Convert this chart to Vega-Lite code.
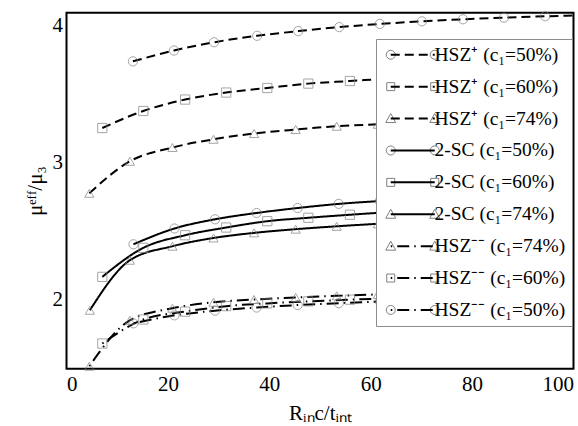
{
  "$schema": "https://vega.github.io/schema/vega-lite/v6.json",
  "width": 507,
  "height": 356,
  "autosize": {"type": "none"},
  "padding": {"left": 66.5, "top": 12.7, "right": 4.5, "bottom": 57},
  "config": {
    "view": {"stroke": "black", "strokeWidth": 2},
    "axis": {
      "grid": false, "domain": false,
      "labelFont": "Liberation Serif", "labelFontSize": 21, "labelColor": "black",
      "titleFont": "Liberation Serif", "titleFontSize": 21, "titleColor": "black", "titleFontWeight": "normal",
      "tickColor": "black", "tickWidth": 1.5, "tickSize": 0
    }
  },
  "data": {"values": [
    {"s": "HSZ⁺ (c₁=50%)", "x": 13.1, "y": 3.736},
    {"s": "HSZ⁺ (c₁=50%)", "x": 21.2, "y": 3.815},
    {"s": "HSZ⁺ (c₁=50%)", "x": 29.1, "y": 3.875},
    {"s": "HSZ⁺ (c₁=50%)", "x": 37.6, "y": 3.922},
    {"s": "HSZ⁺ (c₁=50%)", "x": 45.7, "y": 3.956},
    {"s": "HSZ⁺ (c₁=50%)", "x": 53.8, "y": 3.985},
    {"s": "HSZ⁺ (c₁=50%)", "x": 61.8, "y": 4.008},
    {"s": "HSZ⁺ (c₁=50%)", "x": 70.1, "y": 4.027},
    {"s": "HSZ⁺ (c₁=50%)", "x": 78.2, "y": 4.042},
    {"s": "HSZ⁺ (c₁=50%)", "x": 86.3, "y": 4.054},
    {"s": "HSZ⁺ (c₁=50%)", "x": 94.4, "y": 4.064},
    {"s": "HSZ⁺ (c₁=50%)", "x": 100, "y": 4.070},
    {"s": "HSZ⁺ (c₁=60%)", "x": 7.06, "y": 3.251},
    {"s": "HSZ⁺ (c₁=60%)", "x": 15.15, "y": 3.375},
    {"s": "HSZ⁺ (c₁=60%)", "x": 23.4, "y": 3.458},
    {"s": "HSZ⁺ (c₁=60%)", "x": 31.5, "y": 3.509},
    {"s": "HSZ⁺ (c₁=60%)", "x": 39.6, "y": 3.542},
    {"s": "HSZ⁺ (c₁=60%)", "x": 47.7, "y": 3.574},
    {"s": "HSZ⁺ (c₁=60%)", "x": 55.9, "y": 3.593},
    {"s": "HSZ⁺ (c₁=60%)", "x": 64.0, "y": 3.612},
    {"s": "HSZ⁺ (c₁=60%)", "x": 72.1, "y": 3.627},
    {"s": "HSZ⁺ (c₁=60%)", "x": 80.2, "y": 3.640},
    {"s": "HSZ⁺ (c₁=60%)", "x": 88.3, "y": 3.650},
    {"s": "HSZ⁺ (c₁=60%)", "x": 96.4, "y": 3.659},
    {"s": "HSZ⁺ (c₁=60%)", "x": 100, "y": 3.663},
    {"s": "HSZ⁺ (c₁=74%)", "x": 4.5, "y": 2.776},
    {"s": "HSZ⁺ (c₁=74%)", "x": 12.5, "y": 3.009},
    {"s": "HSZ⁺ (c₁=74%)", "x": 20.9, "y": 3.109},
    {"s": "HSZ⁺ (c₁=74%)", "x": 29.0, "y": 3.169},
    {"s": "HSZ⁺ (c₁=74%)", "x": 37.0, "y": 3.211},
    {"s": "HSZ⁺ (c₁=74%)", "x": 45.2, "y": 3.240},
    {"s": "HSZ⁺ (c₁=74%)", "x": 53.3, "y": 3.264},
    {"s": "HSZ⁺ (c₁=74%)", "x": 61.4, "y": 3.278},
    {"s": "HSZ⁺ (c₁=74%)", "x": 69.5, "y": 3.290},
    {"s": "HSZ⁺ (c₁=74%)", "x": 77.6, "y": 3.300},
    {"s": "HSZ⁺ (c₁=74%)", "x": 85.7, "y": 3.309},
    {"s": "HSZ⁺ (c₁=74%)", "x": 93.8, "y": 3.317},
    {"s": "HSZ⁺ (c₁=74%)", "x": 100, "y": 3.322},
    {"s": "2-SC (c₁=50%)", "x": 13.2, "y": 2.405},
    {"s": "2-SC (c₁=50%)", "x": 21.3, "y": 2.520},
    {"s": "2-SC (c₁=50%)", "x": 29.3, "y": 2.587},
    {"s": "2-SC (c₁=50%)", "x": 37.5, "y": 2.633},
    {"s": "2-SC (c₁=50%)", "x": 45.6, "y": 2.669},
    {"s": "2-SC (c₁=50%)", "x": 53.7, "y": 2.699},
    {"s": "2-SC (c₁=50%)", "x": 61.8, "y": 2.720},
    {"s": "2-SC (c₁=50%)", "x": 69.9, "y": 2.740},
    {"s": "2-SC (c₁=50%)", "x": 78.0, "y": 2.756},
    {"s": "2-SC (c₁=50%)", "x": 86.1, "y": 2.770},
    {"s": "2-SC (c₁=50%)", "x": 94.2, "y": 2.782},
    {"s": "2-SC (c₁=50%)", "x": 100, "y": 2.790},
    {"s": "2-SC (c₁=60%)", "x": 7.06, "y": 2.168},
    {"s": "2-SC (c₁=60%)", "x": 15.15, "y": 2.379},
    {"s": "2-SC (c₁=60%)", "x": 23.4, "y": 2.471},
    {"s": "2-SC (c₁=60%)", "x": 31.5, "y": 2.527},
    {"s": "2-SC (c₁=60%)", "x": 39.6, "y": 2.573},
    {"s": "2-SC (c₁=60%)", "x": 47.7, "y": 2.598},
    {"s": "2-SC (c₁=60%)", "x": 55.9, "y": 2.620},
    {"s": "2-SC (c₁=60%)", "x": 64.0, "y": 2.640},
    {"s": "2-SC (c₁=60%)", "x": 72.1, "y": 2.658},
    {"s": "2-SC (c₁=60%)", "x": 80.2, "y": 2.673},
    {"s": "2-SC (c₁=60%)", "x": 88.3, "y": 2.686},
    {"s": "2-SC (c₁=60%)", "x": 96.4, "y": 2.697},
    {"s": "2-SC (c₁=60%)", "x": 100, "y": 2.702},
    {"s": "2-SC (c₁=74%)", "x": 4.6, "y": 1.925},
    {"s": "2-SC (c₁=74%)", "x": 12.5, "y": 2.289},
    {"s": "2-SC (c₁=74%)", "x": 20.9, "y": 2.391},
    {"s": "2-SC (c₁=74%)", "x": 29.0, "y": 2.451},
    {"s": "2-SC (c₁=74%)", "x": 37.0, "y": 2.488},
    {"s": "2-SC (c₁=74%)", "x": 45.2, "y": 2.515},
    {"s": "2-SC (c₁=74%)", "x": 53.3, "y": 2.536},
    {"s": "2-SC (c₁=74%)", "x": 61.4, "y": 2.554},
    {"s": "2-SC (c₁=74%)", "x": 69.5, "y": 2.569},
    {"s": "2-SC (c₁=74%)", "x": 77.6, "y": 2.582},
    {"s": "2-SC (c₁=74%)", "x": 85.7, "y": 2.593},
    {"s": "2-SC (c₁=74%)", "x": 93.8, "y": 2.603},
    {"s": "2-SC (c₁=74%)", "x": 100, "y": 2.610},
    {"s": "HSZ⁻⁻ (c₁=74%)", "x": 4.5, "y": 1.518},
    {"s": "HSZ⁻⁻ (c₁=74%)", "x": 12.5, "y": 1.852},
    {"s": "HSZ⁻⁻ (c₁=74%)", "x": 20.9, "y": 1.940},
    {"s": "HSZ⁻⁻ (c₁=74%)", "x": 29.0, "y": 1.983},
    {"s": "HSZ⁻⁻ (c₁=74%)", "x": 37.0, "y": 2.003},
    {"s": "HSZ⁻⁻ (c₁=74%)", "x": 45.2, "y": 2.018},
    {"s": "HSZ⁻⁻ (c₁=74%)", "x": 53.3, "y": 2.030},
    {"s": "HSZ⁻⁻ (c₁=74%)", "x": 61.4, "y": 2.040},
    {"s": "HSZ⁻⁻ (c₁=74%)", "x": 69.5, "y": 2.048},
    {"s": "HSZ⁻⁻ (c₁=74%)", "x": 77.6, "y": 2.055},
    {"s": "HSZ⁻⁻ (c₁=74%)", "x": 85.7, "y": 2.060},
    {"s": "HSZ⁻⁻ (c₁=74%)", "x": 93.8, "y": 2.065},
    {"s": "HSZ⁻⁻ (c₁=74%)", "x": 100, "y": 2.068},
    {"s": "HSZ⁻⁻ (c₁=60%)", "x": 7.06, "y": 1.683},
    {"s": "HSZ⁻⁻ (c₁=60%)", "x": 15.15, "y": 1.858},
    {"s": "HSZ⁻⁻ (c₁=60%)", "x": 23.4, "y": 1.915},
    {"s": "HSZ⁻⁻ (c₁=60%)", "x": 31.5, "y": 1.955},
    {"s": "HSZ⁻⁻ (c₁=60%)", "x": 39.6, "y": 1.975},
    {"s": "HSZ⁻⁻ (c₁=60%)", "x": 47.7, "y": 1.990},
    {"s": "HSZ⁻⁻ (c₁=60%)", "x": 55.9, "y": 2.002},
    {"s": "HSZ⁻⁻ (c₁=60%)", "x": 64.0, "y": 2.012},
    {"s": "HSZ⁻⁻ (c₁=60%)", "x": 72.1, "y": 2.020},
    {"s": "HSZ⁻⁻ (c₁=60%)", "x": 80.2, "y": 2.027},
    {"s": "HSZ⁻⁻ (c₁=60%)", "x": 88.3, "y": 2.033},
    {"s": "HSZ⁻⁻ (c₁=60%)", "x": 96.4, "y": 2.038},
    {"s": "HSZ⁻⁻ (c₁=60%)", "x": 100, "y": 2.040},
    {"s": "HSZ⁻⁻ (c₁=50%)", "x": 13.2, "y": 1.830},
    {"s": "HSZ⁻⁻ (c₁=50%)", "x": 21.3, "y": 1.888},
    {"s": "HSZ⁻⁻ (c₁=50%)", "x": 29.3, "y": 1.922},
    {"s": "HSZ⁻⁻ (c₁=50%)", "x": 37.5, "y": 1.945},
    {"s": "HSZ⁻⁻ (c₁=50%)", "x": 45.6, "y": 1.963},
    {"s": "HSZ⁻⁻ (c₁=50%)", "x": 53.7, "y": 1.977},
    {"s": "HSZ⁻⁻ (c₁=50%)", "x": 61.8, "y": 1.988},
    {"s": "HSZ⁻⁻ (c₁=50%)", "x": 69.9, "y": 1.997},
    {"s": "HSZ⁻⁻ (c₁=50%)", "x": 78.0, "y": 2.004},
    {"s": "HSZ⁻⁻ (c₁=50%)", "x": 86.1, "y": 2.010},
    {"s": "HSZ⁻⁻ (c₁=50%)", "x": 94.2, "y": 2.015},
    {"s": "HSZ⁻⁻ (c₁=50%)", "x": 100, "y": 2.018}
  ]},
  "layer": [
    {
      "mark": {"type": "line", "interpolate": "monotone", "color": "black", "stroke": "black", "strokeWidth": 2},
      "encoding": {
        "x": {
          "field": "x", "type": "quantitative",
          "scale": {"domain": [0, 100], "nice": false, "zero": false},
          "axis": {
            "orient": "bottom",
            "values": [0, 10, 20, 30, 40, 50, 60, 70, 80, 90, 100],
            "labelExpr": "datum.value % 20 === 0 ? format(datum.value, 'd') : ''",
            "labelPadding": 5,
            "title": "Rᵢₙc/tᵢₙₜ",
            "titlePadding": 8,
            "encode": {"ticks": {"update": {"y2": {"signal": "datum.value % 20 === 0 ? -9 : -5"}}}}
          }
        },
        "y": {
          "field": "y", "type": "quantitative",
          "scale": {"domain": [1.5, 4.09], "nice": false, "zero": false},
          "axis": {
            "orient": "left",
            "values": [2, 2.5, 3, 3.5, 4],
            "labelExpr": "datum.value % 1 === 0 ? format(datum.value, 'd') : ''",
            "labelPadding": 4,
            "title": "μᵉᶠᶠ/μ₃",
            "titlePadding": 7,
            "encode": {"ticks": {"update": {"x2": {"signal": "datum.value % 1 === 0 ? 9 : 5"}}}}
          }
        },
        "strokeDash": {
          "field": "s", "type": "nominal",
          "sort": ["HSZ⁺ (c₁=50%)", "HSZ⁺ (c₁=60%)", "HSZ⁺ (c₁=74%)", "2-SC (c₁=50%)", "2-SC (c₁=60%)", "2-SC (c₁=74%)", "HSZ⁻⁻ (c₁=74%)", "HSZ⁻⁻ (c₁=60%)", "HSZ⁻⁻ (c₁=50%)"],
          "scale": {"range": [[9, 5], [9, 5], [9, 5], [1, 0], [1, 0], [1, 0], [1.5, 5, 12, 5], [1.5, 5, 12, 5], [1.5, 5, 12, 5]]},
          "legend": {
            "orient": "none", "legendX": 309.5, "legendY": 26.3, "direction": "vertical",
            "title": null, "padding": 6, "rowPadding": 10.9,
            "labelFont": "Liberation Serif", "labelFontSize": 19.5, "labelColor": "black", "labelLimit": 400,
            "symbolType": "M-22,0L22,0", "symbolSize": 4, "symbolStrokeWidth": 2,
            "symbolStrokeColor": "black", "symbolFillColor": "transparent",
            "symbolOffset": 21, "labelOffset": 12, "zindex": 2
          }
        }
      }
    },
    {
      "transform": [{"filter": "datum.x < 99"}],
      "mark": {"type": "point", "filled": false, "color": "#808080", "stroke": "#808080", "strokeWidth": 1, "size": 85},
      "encoding": {
        "x": {
          "field": "x", "type": "quantitative",
          "axis": {
            "orient": "top", "labels": false, "title": null,
            "values": [0, 10, 20, 30, 40, 50, 60, 70, 80, 90, 100],
            "encode": {"ticks": {"update": {"y2": {"signal": "datum.value % 20 === 0 ? 9 : 5"}}}}
          }
        },
        "y": {
          "field": "y", "type": "quantitative",
          "axis": {
            "orient": "right", "labels": false, "title": null,
            "values": [2, 2.5, 3, 3.5, 4],
            "encode": {"ticks": {"update": {"x2": {"signal": "datum.value % 1 === 0 ? -9 : -5"}}}}
          }
        },
        "shape": {
          "field": "s", "type": "nominal",
          "scale": {
            "domain": ["HSZ⁺ (c₁=50%)", "HSZ⁺ (c₁=60%)", "HSZ⁺ (c₁=74%)", "2-SC (c₁=50%)", "2-SC (c₁=60%)", "2-SC (c₁=74%)", "HSZ⁻⁻ (c₁=74%)", "HSZ⁻⁻ (c₁=60%)", "HSZ⁻⁻ (c₁=50%)"],
            "range": ["circle", "square", "triangle-up", "circle", "square", "triangle-up", "triangle-up", "square", "circle"]
          },
          "legend": null
        }
      }
    },
    {
      "transform": [{"filter": "false"}],
      "mark": {"type": "point", "filled": false, "color": "#808080", "stroke": "#808080", "strokeWidth": 1},
      "encoding": {
        "x": {"field": "x", "type": "quantitative", "axis": null},
        "y": {"field": "y", "type": "quantitative", "axis": null},
        "shape": {
          "field": "s", "type": "nominal",
          "scale": {
            "domain": ["HSZ⁺ (c₁=50%)", "HSZ⁺ (c₁=60%)", "HSZ⁺ (c₁=74%)", "2-SC (c₁=50%)", "2-SC (c₁=60%)", "2-SC (c₁=74%)", "HSZ⁻⁻ (c₁=74%)", "HSZ⁻⁻ (c₁=60%)", "HSZ⁻⁻ (c₁=50%)"],
            "range": [
              "M-17.5,0A4.5,4.5,0,1,1,-26.5,0A4.5,4.5,0,1,1,-17.5,0M26.5,0A4.5,4.5,0,1,1,17.5,0A4.5,4.5,0,1,1,26.5,0",
              "M-26,-4H-18V4H-26ZM18,-4H26V4H18Z",
              "M-22,-5L-17,4L-27,4ZM22,-5L27,4L17,4Z",
              "M-17.5,0A4.5,4.5,0,1,1,-26.5,0A4.5,4.5,0,1,1,-17.5,0M26.5,0A4.5,4.5,0,1,1,17.5,0A4.5,4.5,0,1,1,26.5,0",
              "M-26,-4H-18V4H-26ZM18,-4H26V4H18Z",
              "M-22,-5L-17,4L-27,4ZM22,-5L27,4L17,4Z",
              "M-22,-5L-17,4L-27,4ZM22,-5L27,4L17,4Z",
              "M-26,-4H-18V4H-26ZM18,-4H26V4H18Z",
              "M-17.5,0A4.5,4.5,0,1,1,-26.5,0A4.5,4.5,0,1,1,-17.5,0M26.5,0A4.5,4.5,0,1,1,17.5,0A4.5,4.5,0,1,1,26.5,0"
            ]
          },
          "legend": {
            "orient": "none", "legendX": 309.5, "legendY": 26.3, "direction": "vertical",
            "title": null, "padding": 6, "rowPadding": 10.9,
            "fillColor": "white", "strokeColor": "#8c8c8c", "cornerRadius": 0,
            "labelFont": "Liberation Serif", "labelFontSize": 19.5, "labelOpacity": 0, "labelLimit": 400,
            "symbolSize": 4, "symbolStrokeWidth": 1, "symbolStrokeColor": "#808080", "symbolFillColor": "transparent", "symbolOpacity": 1,
            "symbolOffset": 21, "labelOffset": 12, "zindex": 1
          }
        }
      }
    }
  ],
  "resolve": {"axis": {"x": "independent", "y": "independent"}, "scale": {"shape": "independent"}}
}
